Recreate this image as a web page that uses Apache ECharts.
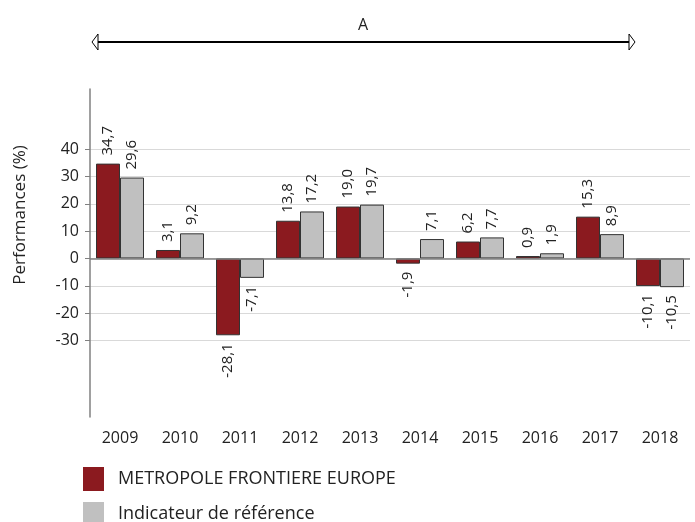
<!DOCTYPE html>
<html>
<head>
<meta charset="utf-8">
<script src="https://cdn.jsdelivr.net/npm/echarts@6/dist/echarts.min.js"></script>
<style>
  html, body { margin: 0; padding: 0; background: #fff; }
  #main { width: 695px; height: 522px; }
</style>
</head>
<body>
<div id="main"></div>
<script>
// data
var years = ["2009", "2010", "2011", "2012", "2013", "2014", "2015", "2016", "2017", "2018"];
var metropole = [34.7, 3.1, -28.1, 13.8, 19.0, -1.9, 6.2, 0.9, 15.3, -10.1];
var reference = [29.6, 9.2, -7.1, 17.2, 19.7, 7.1, 7.7, 1.9, 8.9, -10.5];
var yTicks = [-30, -20, -10, 0, 10, 20, 30, 40];
var seriesNames = ["METROPOLE FRONTIERE EUROPE", "Indicateur de référence"];

var font = "Open Sans";

function withLabels(values) {
  return values.map(function (v) {
    var neg = v < 0;
    return {
      value: v,
      label: {
        show: true,
        position: neg ? "bottom" : "top",
        rotate: 90,
        align: neg ? "right" : "left",
        verticalAlign: "middle",
        distance: 8,
        fontFamily: font,
        fontSize: 15,
        color: "#222",
        formatter: function (p) { return p.value.toFixed(1).replace(".", ","); }
      }
    };
  });
}

var legendBase = {
  orient: "vertical",
  left: 83,
  padding: 0,
  itemWidth: 21,
  itemHeight: 24,
  icon: "rect",
  textStyle: { fontFamily: font, fontSize: 18, color: "#222", padding: [0, 0, 0, 9] },
  itemStyle: { borderWidth: 0 }
};

var myChart = echarts.init(document.getElementById("main"));
myChart.setOption({
  animation: false,
  textStyle: { fontFamily: font },
  grid: { left: 90, right: 5, top: 89, bottom: 105 },
  legend: [
    Object.assign({ top: 467, data: [seriesNames[0]] }, legendBase),
    Object.assign({ top: 502, data: [seriesNames[1]] }, legendBase)
  ],
  xAxis: {
    type: "category",
    data: years,
    axisLine: { show: false, onZero: false },
    axisTick: { show: false },
    axisLabel: { fontFamily: font, fontSize: 16, color: "#222", margin: 13 }
  },
  yAxis: {
    type: "value",
    min: -58,
    max: 62,
    axisLine: { show: true, lineStyle: { color: "#808080", width: 1.5 } },
    axisTick: { show: true, length: 5, customValues: yTicks, lineStyle: { color: "#808080" } },
    axisLabel: { fontFamily: font, fontSize: 16, color: "#222", margin: 11, customValues: yTicks },
    splitLine: { show: true, lineStyle: { color: "#d9d9d9", width: 1 } }
  },
  series: [
    {
      name: seriesNames[0],
      type: "bar",
      data: withLabels(metropole),
      barWidth: 24,
      barGap: "0%",
      itemStyle: { color: "#8b1a1f", borderColor: "#333", borderWidth: 1 },
      markLine: {
        silent: true,
        symbol: "none",
        label: { show: false },
        lineStyle: { color: "#7f7f7f", type: "solid", width: 1.5 },
        data: [{ yAxis: 0 }]
      }
    },
    {
      name: seriesNames[1],
      type: "bar",
      data: withLabels(reference),
      barWidth: 24,
      itemStyle: { color: "#c0c0c0", borderColor: "#333", borderWidth: 1 }
    }
  ],
  graphic: [
    {
      type: "text",
      x: 20,
      y: 215,
      rotation: Math.PI / 2,
      style: { text: "Performances (%)", fontFamily: font, fontSize: 17, fill: "#222", align: "center", verticalAlign: "middle" }
    },
    { type: "text", x: 363, y: 25, style: { text: "A", fontFamily: font, fontSize: 16, fill: "#222", align: "center", verticalAlign: "middle" } },
    { type: "line", shape: { x1: 97, y1: 42, x2: 630, y2: 42 }, style: { stroke: "#000", lineWidth: 2 } },
    { type: "polygon", shape: { points: [[92, 42], [98, 34], [98, 50]] }, style: { fill: "#fff", stroke: "#000", lineWidth: 1 } },
    { type: "polygon", shape: { points: [[635, 42], [629, 34], [629, 50]] }, style: { fill: "#fff", stroke: "#000", lineWidth: 1 } }
  ]
});
</script>
</body>
</html>
